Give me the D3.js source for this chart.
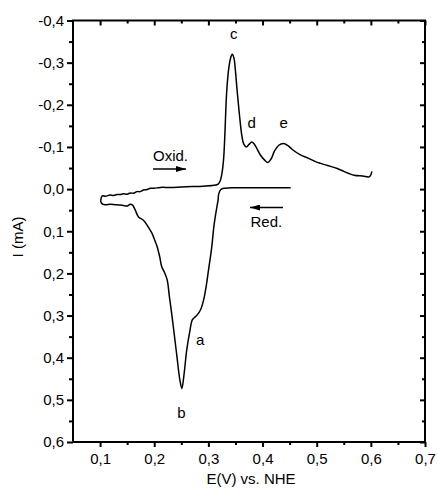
<!DOCTYPE html>
<html lang="en">
  <head>
    <meta charset="utf-8">
    <title>CV - oxidation / reduction</title>
    <script src="https://cdn.jsdelivr.net/npm/d3@7"></script>
    <style type="text/css">
        body {
          margin: 0;
          background: #fff;
        }
        .chart svg {
            font-family: "Liberation Sans", Arial, sans-serif;
            font-size: 15px;
        }
        .curve {
            fill: none;
            stroke: #000;
            stroke-width: 1.5px;
            stroke-linejoin: round;
        }
        .frame {
            fill: none;
            stroke: #000;
            stroke-width: 2px;
        }
    </style>
  </head>
  <body>
    <div class="chart" id="chart"></div>

    <script>
        // oxidation sweep (anodic), E in V vs NHE, I in mA
        var oxE = [0.101, 0.104, 0.110, 0.118, 0.125, 0.131, 0.137, 0.143, 0.150, 0.156,
                   0.162, 0.168, 0.174, 0.180, 0.187, 0.193, 0.200, 0.211, 0.230, 0.250,
                   0.270, 0.290, 0.310, 0.318, 0.322, 0.325, 0.328, 0.330, 0.334, 0.338,
                   0.342, 0.344, 0.347, 0.350, 0.353, 0.359, 0.362, 0.365, 0.370, 0.375,
                   0.380, 0.384, 0.388, 0.396, 0.403, 0.410, 0.416, 0.422, 0.430, 0.439,
                   0.447, 0.455, 0.470, 0.485, 0.500, 0.507, 0.520, 0.538, 0.550, 0.569,
                   0.585, 0.597, 0.600, 0.602];
        var oxI = [0.028, 0.016, 0.017, 0.014, 0.015, 0.013, 0.013, 0.011, 0.012, 0.009,
                   0.010, 0.006, 0.006, 0.002, 0.001, -0.002, -0.002, -0.004, -0.004, -0.005,
                   -0.006, -0.007, -0.009, -0.012, -0.020, -0.037, -0.070, -0.116, -0.235, -0.290,
                   -0.315, -0.320, -0.312, -0.280, -0.235, -0.156, -0.125, -0.108, -0.100, -0.106,
                   -0.112, -0.108, -0.100, -0.081, -0.070, -0.063, -0.072, -0.090, -0.104, -0.108,
                   -0.103, -0.094, -0.081, -0.073, -0.064, -0.061, -0.056, -0.049, -0.042, -0.033,
                   -0.031, -0.029, -0.034, -0.042];

        // reduction sweep (cathodic), from 0.45 V back to 0.1 V
        var redE = [0.452, 0.400, 0.350, 0.330, 0.323, 0.319, 0.318, 0.314, 0.310, 0.306,
                    0.301, 0.296, 0.291, 0.286, 0.279, 0.274, 0.270, 0.266, 0.260, 0.255,
                    0.251, 0.247, 0.242, 0.237, 0.233, 0.228, 0.224, 0.219, 0.214, 0.210,
                    0.205, 0.202, 0.196, 0.189, 0.180, 0.171, 0.165, 0.160, 0.156, 0.150,
                    0.143, 0.137, 0.128, 0.119, 0.110, 0.105, 0.102, 0.101];
        var redI = [-0.003, -0.003, -0.003, -0.002, 0.001, 0.012, 0.025, 0.055, 0.090, 0.140,
                    0.185, 0.230, 0.264, 0.285, 0.299, 0.305, 0.311, 0.335, 0.382, 0.440,
                    0.473, 0.450, 0.398, 0.345, 0.303, 0.255, 0.216, 0.198, 0.185, 0.160,
                    0.135, 0.125, 0.105, 0.090, 0.074, 0.066, 0.050, 0.038, 0.036, 0.040,
                    0.039, 0.038, 0.037, 0.036, 0.037, 0.036, 0.032, 0.028];

        var xTicks = [0.1, 0.2, 0.3, 0.4, 0.5, 0.6, 0.7];
        var yTicks = [-0.4, -0.3, -0.2, -0.1, 0.0, 0.1, 0.2, 0.3, 0.4, 0.5, 0.6];
        var xMinor = [0.15, 0.25, 0.35, 0.45, 0.55, 0.65];
        var yMinor = [-0.35, -0.25, -0.15, -0.05, 0.05, 0.15, 0.25, 0.35, 0.45, 0.55];

        // peak labels
        var peakNames = ["a", "b", "c", "d", "e"];
        var peakE = [0.285, 0.250, 0.347, 0.380, 0.439];
        var peakI = [0.370, 0.543, -0.355, -0.145, -0.145];

        var width = 438, height = 493;
        var margin = {top: 20.5, right: 13, bottom: 51, left: 73};

        var svg = d3.select("#chart")
                    .append("svg")
                    .attr("width", width)
                    .attr("height", height);

        var x = d3.scaleLinear()
            .domain([0.05, 0.7])
            .range([margin.left, width - margin.right]);

        // current axis is inverted: anodic (negative) up
        var y = d3.scaleLinear()
            .domain([-0.4, 0.6])
            .range([margin.top, height - margin.bottom]);

        var comma = function(d) { return d3.format(".1f")(d).replace(".", ",").replace("−", "-"); };

        // left axis, ticks out
        svg.append("g")
            .attr("transform", "translate(" + margin.left + ",0)")
            .call(d3.axisLeft(y).tickValues(yTicks).tickSize(6).tickPadding(3).tickFormat(comma))
            .call(function(g) {
                g.select(".domain").remove();
                g.selectAll("line").attr("stroke-width", 2);
                g.selectAll("text").attr("font-size", 15).attr("font-family", "Liberation Sans, Arial, sans-serif");
            });
        svg.append("g")
            .attr("transform", "translate(" + margin.left + ",0)")
            .call(d3.axisLeft(y).tickValues(yMinor).tickSize(4).tickFormat(""))
            .call(function(g) { g.select(".domain").remove(); g.selectAll("line").attr("stroke-width", 2); });

        // bottom axis, ticks out
        svg.append("g")
            .attr("transform", "translate(0," + (height - margin.bottom) + ")")
            .call(d3.axisBottom(x).tickValues(xTicks).tickSize(5).tickPadding(6).tickFormat(comma))
            .call(function(g) {
                g.select(".domain").remove();
                g.selectAll("line").attr("stroke-width", 2);
                g.selectAll("text").attr("font-size", 15).attr("font-family", "Liberation Sans, Arial, sans-serif");
            });
        svg.append("g")
            .attr("transform", "translate(0," + (height - margin.bottom) + ")")
            .call(d3.axisBottom(x).tickValues(xMinor).tickSize(3).tickFormat(""))
            .call(function(g) { g.select(".domain").remove(); g.selectAll("line").attr("stroke-width", 2); });

        // mirrored top / right ticks pointing in
        svg.append("g")
            .attr("transform", "translate(0," + margin.top + ")")
            .call(d3.axisBottom(x).tickValues(xTicks).tickSize(5).tickFormat(""))
            .call(function(g) { g.select(".domain").remove(); g.selectAll("line").attr("stroke-width", 2); });
        svg.append("g")
            .attr("transform", "translate(0," + margin.top + ")")
            .call(d3.axisBottom(x).tickValues(xMinor).tickSize(3).tickFormat(""))
            .call(function(g) { g.select(".domain").remove(); g.selectAll("line").attr("stroke-width", 2); });
        svg.append("g")
            .attr("transform", "translate(" + (width - margin.right) + ",0)")
            .call(d3.axisLeft(y).tickValues(yTicks).tickSize(5).tickFormat(""))
            .call(function(g) { g.select(".domain").remove(); g.selectAll("line").attr("stroke-width", 2); });
        svg.append("g")
            .attr("transform", "translate(" + (width - margin.right) + ",0)")
            .call(d3.axisLeft(y).tickValues(yMinor).tickSize(3).tickFormat(""))
            .call(function(g) { g.select(".domain").remove(); g.selectAll("line").attr("stroke-width", 2); });

        svg.append("rect")
            .attr("class", "frame")
            .attr("x", margin.left)
            .attr("y", margin.top)
            .attr("width", width - margin.left - margin.right)
            .attr("height", height - margin.top - margin.bottom);

        // axis titles
        svg.append("text")
            .attr("x", 251)
            .attr("y", 484)
            .attr("text-anchor", "middle")
            .text("E(V) vs. NHE");
        svg.append("text")
            .attr("transform", "translate(23,237) rotate(-90)")
            .attr("text-anchor", "middle")
            .text("I (mA)");

        // curves
        var line = d3.line()
            .x(function(d) { return x(d[0]); })
            .y(function(d) { return y(d[1]); })
            .curve(d3.curveCatmullRom.alpha(0.5));

        svg.append("path")
            .datum(d3.zip(oxE, oxI))
            .attr("class", "curve")
            .attr("d", line);
        svg.append("path")
            .datum(d3.zip(redE, redI))
            .attr("class", "curve")
            .attr("d", line);

        // peak labels
        svg.selectAll(".peak")
            .data(d3.zip(peakNames, peakE, peakI))
            .enter().append("text")
              .attr("class", "peak")
              .attr("x", function(d) { return x(d[1]); })
              .attr("y", function(d) { return y(d[2]); })
              .attr("text-anchor", "middle")
              .text(function(d) { return d[0]; });

        // sweep direction arrows
        svg.append("defs").append("marker")
            .attr("id", "head")
            .attr("viewBox", "0 0 10 6")
            .attr("refX", 10)
            .attr("refY", 3)
            .attr("markerWidth", 10)
            .attr("markerHeight", 6)
            .attr("markerUnits", "userSpaceOnUse")
            .attr("orient", "auto")
          .append("path")
            .attr("d", "M0,0L10,3L0,6Z");

        svg.append("text").attr("x", 153).attr("y", 160.5).text("Oxid.");
        svg.append("line")
            .attr("x1", 153).attr("y1", 169).attr("x2", 186).attr("y2", 169)
            .attr("stroke", "#000").attr("stroke-width", 1.3)
            .attr("marker-end", "url(#head)");

        svg.append("text").attr("x", 250.5).attr("y", 226.5).text("Red.");
        svg.append("line")
            .attr("x1", 283).attr("y1", 207.5).attr("x2", 250).attr("y2", 207.5)
            .attr("stroke", "#000").attr("stroke-width", 1.3)
            .attr("marker-end", "url(#head)");
    </script>
  </body>
</html>
